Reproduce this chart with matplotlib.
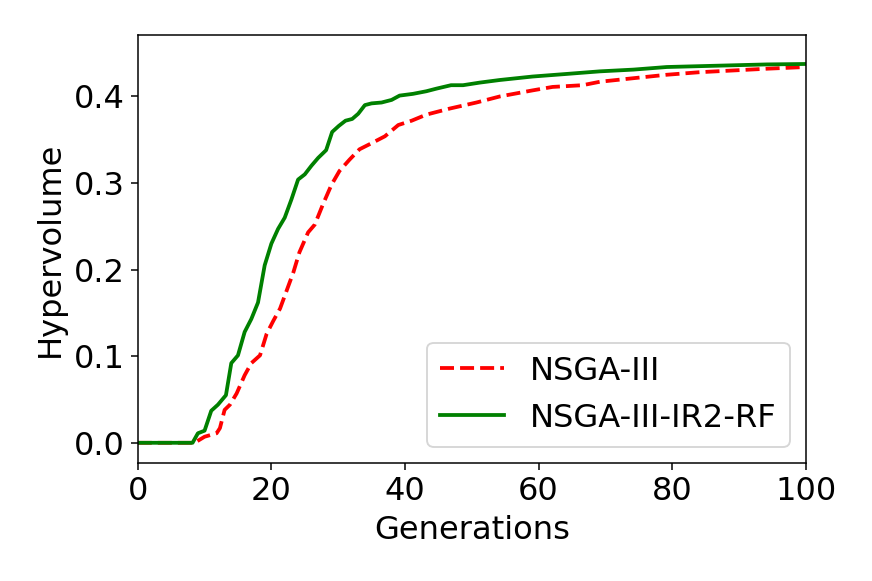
import matplotlib
matplotlib.use("Agg")
import matplotlib.pyplot as plt

# Hypervolume per generation.
gen_base = [0, 8.5, 10.0, 11.8, 12.3, 13.0, 13.8, 14.8, 16.0, 17.0, 18.3, 19.3,
            20.3, 21.3, 22.3, 23.3, 24.2, 25.5, 26.5, 27.7, 29.0, 30.2, 31.7,
            33.2, 35.0, 37.0, 39.0, 41.0, 43.2, 46.7, 50.7, 54.2, 59.1, 62.1,
            66.6, 69.2, 74.1, 79.1, 84.1, 89.1, 94.1, 100]
hv_base = [0.0, 0.0, 0.007, 0.011, 0.017, 0.038, 0.044, 0.057, 0.078, 0.092,
           0.101, 0.126, 0.141, 0.155, 0.176, 0.197, 0.220, 0.243, 0.252,
           0.275, 0.298, 0.314, 0.327, 0.339, 0.346, 0.354, 0.367, 0.372,
           0.379, 0.386, 0.393, 0.400, 0.407, 0.411, 0.413, 0.417, 0.421,
           0.425, 0.428, 0.430, 0.432, 0.434]

gen_rf = [0, 8.2, 9.0, 10.0, 11.0, 12.0, 13.2, 14.0, 15.0, 16.0, 17.0, 18.0,
          19.0, 20.0, 21.0, 22.0, 23.0, 24.0, 25.0, 26.0, 27.0, 28.2, 29.1,
          30.1, 31.1, 32.1, 33.0, 34.0, 35.0, 36.5, 38.0, 39.2, 41.2, 43.2,
          44.7, 46.9, 48.7, 51.2, 54.2, 59.1, 64.2, 69.2, 74.2, 79.2, 84.2,
          89.2, 94.2, 100]
hv_rf = [0.0, 0.0, 0.011, 0.014, 0.037, 0.044, 0.055, 0.092, 0.101, 0.128,
         0.143, 0.162, 0.205, 0.230, 0.247, 0.260, 0.281, 0.304, 0.310, 0.320,
         0.329, 0.338, 0.359, 0.366, 0.372, 0.374, 0.380, 0.390, 0.392, 0.393,
         0.396, 0.401, 0.403, 0.406, 0.409, 0.413, 0.413, 0.416, 0.419, 0.423,
         0.426, 0.429, 0.431, 0.434, 0.435, 0.436, 0.437, 0.4375]

DPI = 136.25
FS = 17
fig = plt.figure(figsize=(872 / DPI, 581 / DPI), dpi=DPI)
ax = fig.add_axes([0.158, 0.2036, 0.766, 0.7362])

ax.plot(gen_base, hv_base, 'r--', lw=2, label='NSGA-III')
ax.plot(gen_rf, hv_rf, 'g-', lw=2, label='NSGA-III-IR2-RF')

ax.set_xlim(0, 100)
ax.set_ylim(-0.023, 0.471)
ax.set_xticks([0, 20, 40, 60, 80, 100])
ax.set_yticks([0.0, 0.1, 0.2, 0.3, 0.4])
ax.tick_params(labelsize=FS)
ax.set_xlabel('Generations', fontsize=FS)
ax.set_ylabel('Hypervolume', fontsize=FS)
ax.legend(loc='lower right', fontsize=FS)

fig.savefig('out.png', dpi=DPI)
